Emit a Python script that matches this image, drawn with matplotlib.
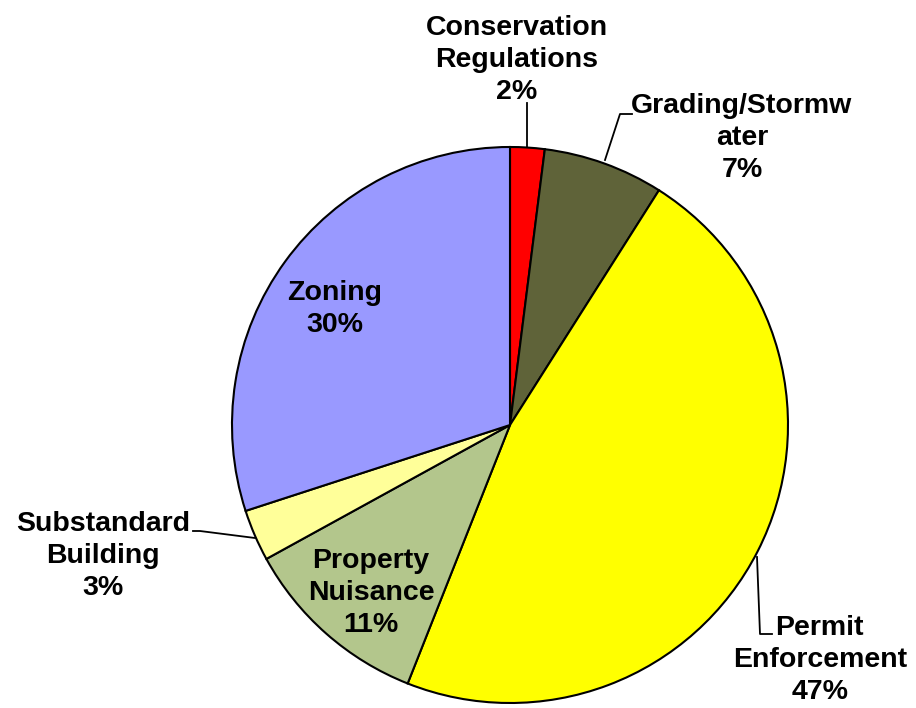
import matplotlib
matplotlib.use("Agg")
import matplotlib.pyplot as plt

categories = ["Conservation\nRegulations", "Grading/Stormw\nater", "Permit\nEnforcement",
              "Property\nNuisance", "Substandard\nBuilding", "Zoning"]
values = [2, 7, 47, 11, 3, 30]
colors = ["#FF0000", "#5F6339", "#FFFF00", "#B3C68C", "#FFFF99", "#9999FF"]

W, H = 916, 708
fig = plt.figure(figsize=(W / 100, H / 100), dpi=100)
ax = fig.add_axes([0, 0, 1, 1])

cx, cy, r = 510, H - 425, 278
wedges, _ = ax.pie(values, colors=colors, startangle=90, counterclock=False,
                   center=(cx, cy), radius=r, frame=True,
                   wedgeprops=dict(edgecolor="black", linewidth=1.5))
ax.set_xlim(0, W)
ax.set_ylim(0, H)
ax.set_aspect("auto")
ax.axis("off")

font = dict(family=["Liberation Sans", "DejaVu Sans"], fontsize=20.5, fontweight="bold",
            ha="center", va="center", linespacing=1.32, color="black")

def lab(i):
    return f"{categories[i]}\n{values[i]}%"

# label centres in pixel coords (top-left origin)
pos = {0: (517, 60), 1: (742, 138), 3: (371, 593), 4: (103, 556), 5: (335, 309)}
for i, (x, y) in pos.items():
    ax.text(x, H - y, lab(i), **font)

# Permit Enforcement label (first line starts next to its leader)
perm_lines = categories[2].split("\n")
ax.text(775, H - 628, perm_lines[0], **{**font, "ha": "left"})
ax.text(820, H - 660, perm_lines[1], **font)
ax.text(820, H - 692, f"{values[2]}%", **font)

lk = dict(color="black", lw=1.3)
ax.plot([527, 527], [H - 103, H - 147], **lk)
ax.plot([632, 620, 605], [H - 114, H - 114, H - 160], **lk)
ax.plot([193, 200, 255], [H - 531, H - 531, H - 538], **lk)
ax.plot([757, 760, 772], [H - 557, H - 634, H - 634], **lk)

fig.savefig("out.png", dpi=100)
